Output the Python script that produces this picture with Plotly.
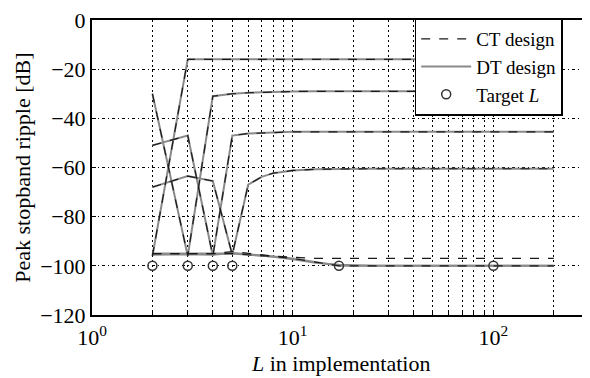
import numpy as np
import plotly.graph_objects as go

# L values used in implementation
L_impl = [2, 3, 4, 5, 6, 7, 8, 10, 13, 17, 25, 50, 100, 200]

# Peak stopband ripple [dB] for designs with different target L
dt_target2 = [-96, -16, -16, -16, -16, -16, -16, -16, -16, -16, -16, -16, -16, -16]
dt_target3 = [-30, -96, -31, -30, -29.6, -29.4, -29.3, -29.1, -29, -29, -29, -29, -29, -29]
dt_target4 = [-51, -47, -96, -47, -46.2, -45.9, -45.7, -45.5, -45.5, -45.5, -45.5, -45.5, -45.5, -45.5]
dt_target5 = [-68, -63.5, -65.5, -95.5, -67, -63.8, -62.3, -61.2, -60.7, -60.5, -60.5, -60.5, -60.5, -60.5]
dt_target17 = [-95, -95, -95, -95, -95.5, -95.8, -96.2, -97, -98.5, -100, -100, -100, -100, -100]
dt_target100 = [-95.5, -95.3, -95.5, -94.8, -95.3, -95.8, -96.3, -97.3, -98.8, -99.6, -100, -100, -100, -100]

ct_target2 = dt_target2
ct_target3 = dt_target3
ct_target4 = dt_target4
ct_target5 = dt_target5
ct_target17 = dt_target17
ct_target100 = [-95, -95, -95, -94.2, -95, -95.5, -96, -96.5, -97, -97, -97, -97, -97, -97]

target_L = [2, 3, 4, 5, 17, 100]
target_ripple = [-100, -100, -100, -100, -100, -100]

x_tickvals = [1, 10, 100]
x_ticktext = ["10<sup>0</sup>", "10<sup>1</sup>", "10<sup>2</sup>"]
y_tickvals = [0, -20, -40, -60, -80, -100, -120]
y_ticktext = ["0", "\u221220", "\u221240", "\u221260", "\u221280", "\u2212100", "\u2212120"]

FONT = "Liberation Serif, Times New Roman, serif"
DT_COLOR = "#8a8a8a"
CT_COLOR = "#1a1a1a"

fig = go.Figure()

dt_list = [dt_target2, dt_target3, dt_target4, dt_target5, dt_target17, dt_target100]
ct_list = [ct_target2, ct_target3, ct_target4, ct_target5, ct_target17, ct_target100]

for i, d in enumerate(dt_list):
    fig.add_trace(go.Scatter(x=L_impl, y=d, mode="lines",
                             line=dict(color=DT_COLOR, width=2),
                             name="DT design", showlegend=(i == 0), legendrank=2))
for i, c in enumerate(ct_list):
    fig.add_trace(go.Scatter(x=L_impl, y=c, mode="lines",
                             line=dict(color=CT_COLOR, width=1.2, dash="dash"),
                             name="CT design", showlegend=(i == 0), legendrank=1))

fig.add_trace(go.Scatter(x=target_L, y=target_ripple, mode="markers",
                         marker=dict(symbol="circle-open", size=9, color="#333333",
                                     line=dict(width=1.5)),
                         name="Target <i>L</i>", legendrank=3))

PW = 498  # plot width in px
# page body adds an 8px margin, so the figure is drawn 8px smaller
fig.update_layout(
    width=582, height=370,
    margin=dict(l=84, r=0, t=7, b=63),
    plot_bgcolor="white", paper_bgcolor="white",
    font=dict(family=FONT, size=22, color="black"),
    legend=dict(x=(416 - 92) / PW, y=1.005, xanchor="left", yanchor="top",
                bgcolor="white", bordercolor="black", borderwidth=1.5,
                font=dict(family=FONT, size=19), tracegroupgap=0,
                itemwidth=50),
    annotations=[
        dict(text="<i>L</i> in implementation", xref="paper", yref="paper",
             x=(341 - 92) / PW, y=-0.163, xanchor="center", yanchor="middle", showarrow=False,
             font=dict(family=FONT, size=22)),
        dict(text="Peak stopband ripple [dB]", xref="paper", yref="paper",
             x=-70 / PW, y=0.5, xanchor="center", yanchor="middle", showarrow=False,
             textangle=-90, font=dict(family=FONT, size=22)),
    ],
)

fig.update_xaxes(
    type="log", range=[0, PW / 201.5],
    tickvals=x_tickvals, ticktext=x_ticktext,
    showline=True, linecolor="black", linewidth=2, mirror=True,
    ticks="inside", ticklen=4, tickcolor="black",
    showgrid=True, gridcolor="black", gridwidth=1, griddash="2px,3px",
    minor=dict(tickvals=[2, 3, 4, 5, 6, 7, 8, 9, 20, 30, 40, 50, 60, 70, 80, 90, 200],
               showgrid=True, gridcolor="black", gridwidth=1, griddash="2px,3px",
               ticks="inside", ticklen=4, tickcolor="black"),
    tickfont=dict(family=FONT, size=22),
    ticklabelstandoff=2,
    ticklabeloverflow="allow",
    zeroline=False,
)
fig.update_yaxes(
    range=[-120, 0],
    tickvals=y_tickvals, ticktext=y_ticktext,
    showline=True, linecolor="black", linewidth=2, mirror=True,
    ticks="inside", ticklen=4, tickcolor="black",
    showgrid=True, gridcolor="black", gridwidth=1, griddash="3px,3px,1px,3px",
    tickfont=dict(family=FONT, size=22),
    ticklabeloverflow="allow",
    zeroline=False,
)

fig.write_html("out.html")
